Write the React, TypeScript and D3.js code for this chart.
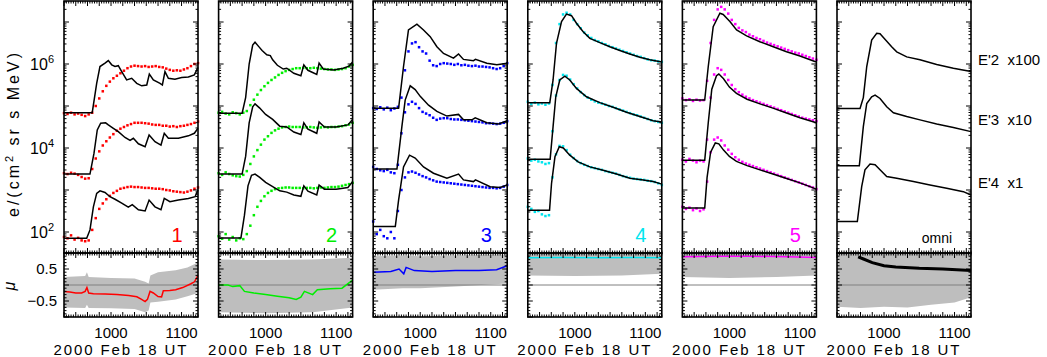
import * as d3 from 'd3';
import React, { useRef, useEffect } from 'react';

// time axis: minutes after 09:00 UT
const T0 = 20, T1 = 134;
const dotTimes = [20,23,26,29,32,35,38,41,44,47,50,53,56,59,62,65,68,71,74,77,80,83,86,89,92,95,98,101,104,107,110,113,116,119,122,125,128,131,134];

const channelLabels = ["E'2  x100", "E'3  x10", "E'4  x1"];
const panelLabels = ['1', '2', '3', '4', '5', 'omni'];
const panelColors = ['#ff0000', '#00ee00', '#0000ff', '#00e5ee', '#ff00ff', '#000000'];

// ---- panel 1 (log10 flux) ----
const p1Dots2 = [4.83,4.81,4.84,4.80,4.82,4.79,4.76,4.80,4.84,5.0,5.18,5.35,5.48,5.58,5.66,5.72,5.78,5.84,5.9,5.94,5.96,5.95,5.94,5.95,5.93,5.94,5.95,5.93,5.92,5.89,5.86,5.84,5.85,5.84,5.87,5.9,5.95,6.0,6.02];
const p1Dots3 = [3.40,3.38,3.41,3.39,3.36,3.31,3.27,3.28,3.5,3.75,3.92,4.06,4.16,4.25,4.33,4.41,4.46,4.5,4.54,4.57,4.6,4.6,4.6,4.59,4.58,4.56,4.55,4.55,4.53,4.53,4.51,4.52,4.5,4.52,4.53,4.55,4.57,4.6,4.63];
const p1Dots4 = [1.88,1.85,1.92,1.82,1.86,1.80,1.78,1.8,2.05,2.33,2.55,2.68,2.78,2.86,2.93,2.98,3.03,3.05,3.07,3.08,3.07,3.07,3.06,3.05,3.05,3.04,3.03,3.03,3.02,3.0,2.99,2.97,2.96,2.95,2.94,2.96,2.99,3.03,3.06];
const p1Fit2 = [[20,4.84],[44,4.84],[47.8,5.54],[50.6,5.94],[54.9,6.02],[57.7,6.08],[60.6,5.98],[63.4,5.94],[66.2,5.96],[69.1,5.82],[73.3,5.62],[77.6,5.66],[81.9,5.54],[86.1,5.48],[90.4,5.5],[92.6,5.76],[96,5.62],[101.7,5.54],[103.7,5.5],[105.9,5.82],[108.8,5.66],[114.4,5.64],[120.1,5.68],[125.8,5.69],[130.9,5.74],[134,5.92]];
const p1Fit3 = [[20,3.38],[42.1,3.38],[45.5,3.87],[48.3,4.43],[51.2,4.59],[55.4,4.6],[57.7,4.55],[62,4.47],[66.2,4.39],[71.9,4.25],[76.2,4.18],[79,4.23],[83.3,4.1],[89,4.03],[92.4,4.31],[97.4,4.15],[102.5,4.07],[105.3,4.35],[108.8,4.23],[117.3,4.23],[125.8,4.29],[130.9,4.35],[134,4.47]];
const p1Fit4 = [[20,1.85],[39.3,1.85],[42.1,2.05],[45,2.6],[47.8,2.92],[50.6,2.98],[54.9,2.94],[59.1,2.84],[63.4,2.78],[69.1,2.69],[74.7,2.59],[78.1,2.65],[83.3,2.53],[89,2.5],[92.4,2.76],[97.4,2.6],[102.5,2.53],[105.3,2.8],[110.1,2.72],[117.3,2.76],[125.8,2.8],[131.5,2.84],[134,3.0]];

// ---- panel 2 ----
const p2Dots2 = [4.84,4.86,4.82,4.8,4.85,4.83,4.8,4.84,4.88,5.02,5.15,5.27,5.38,5.47,5.55,5.62,5.68,5.74,5.79,5.83,5.86,5.88,5.9,5.9,5.91,5.9,5.9,5.91,5.9,5.89,5.88,5.87,5.87,5.86,5.87,5.88,5.9,5.94,5.98];
const p2Dots3 = [3.4,3.36,3.42,3.38,3.35,3.33,3.32,3.36,3.45,3.62,3.8,3.95,4.08,4.2,4.28,4.36,4.42,4.46,4.49,4.5,4.51,4.5,4.5,4.5,4.49,4.49,4.5,4.49,4.48,4.49,4.5,4.49,4.5,4.5,4.51,4.52,4.54,4.56,4.6];
const p2Dots4 = [1.9,1.84,1.95,1.82,1.88,1.8,1.85,1.83,1.95,2.15,2.4,2.6,2.74,2.85,2.93,2.98,3.02,3.04,3.05,3.06,3.06,3.05,3.05,3.05,3.04,3.05,3.05,3.04,3.05,3.06,3.05,3.06,3.07,3.07,3.08,3.1,3.12,3.14,3.17];
const p2Fit2 = [[20,4.83],[40,4.83],[43,5.2],[46,6.0],[49,6.45],[51,6.52],[54,6.42],[57,6.32],[61,6.22],[64,6.2],[66,6.1],[70,5.97],[75,5.88],[78,5.9],[84,5.78],[90,5.72],[92.5,5.98],[96,5.85],[103.5,5.75],[105.5,6.02],[109,5.88],[118,5.86],[126,5.9],[131,5.95],[134,6.05]];
const p2Fit3 = [[20,3.38],[40,3.38],[43,3.8],[46,4.6],[49,4.98],[51,5.05],[55,4.95],[60,4.8],[66,4.68],[72,4.52],[78,4.5],[84,4.38],[90,4.32],[92.5,4.6],[96,4.45],[103.5,4.35],[105.5,4.62],[110,4.5],[120,4.5],[130,4.55],[134,4.68]];
const p2Fit4 = [[20,1.86],[39,1.86],[42,2.4],[45,3.1],[48,3.35],[51,3.38],[55,3.3],[60,3.18],[66,3.08],[72,2.98],[78,2.95],[84,2.88],[90,2.85],[92.5,3.1],[96,2.97],[103.5,2.88],[105.5,3.12],[110,3.02],[120,3.02],[130,3.06],[134,3.2]];

// ---- panel 3 ----
const p3Dots2 = [4.95,4.93,4.97,4.92,4.96,4.9,4.94,4.98,5.2,5.85,6.3,6.49,6.52,6.4,6.3,6.25,6.08,5.97,5.95,6.0,6.02,6.01,6.0,5.98,6.0,5.97,5.98,5.96,5.95,5.96,5.94,5.94,5.93,5.92,5.9,5.88,5.9,5.95,6.02];
const p3Dots3 = [3.55,3.5,3.47,3.45,3.48,3.42,3.4,3.6,4.35,4.85,5.04,5.1,5.05,4.95,4.86,4.82,4.78,4.72,4.67,4.7,4.71,4.71,4.69,4.68,4.68,4.67,4.66,4.65,4.64,4.63,4.62,4.61,4.59,4.59,4.58,4.57,4.58,4.6,4.64];
const p3Dots4 = [2.25,1.95,2.05,1.9,1.85,2.0,1.85,2.5,3.0,3.3,3.42,3.44,3.41,3.37,3.33,3.3,3.26,3.23,3.2,3.19,3.18,3.17,3.16,3.15,3.14,3.13,3.12,3.11,3.1,3.09,3.08,3.07,3.06,3.05,3.05,3.04,3.05,3.08,3.12];
const p3Fit2 = [[20,4.945],[41.6,4.945],[45.8,5.94],[50,6.81],[57.2,6.95],[62.8,6.81],[68.5,6.65],[74.2,6.41],[79.8,6.25],[88.3,6.14],[92.6,6.24],[96.8,6.11],[105.3,6.08],[107,6.11],[116.7,6.02],[125.2,5.98],[134,6.02]];
const p3Fit3 = [[20,3.5],[40.2,3.5],[44.4,4.51],[47.2,5.14],[51.5,5.48],[55.7,5.39],[60,5.23],[67.1,5.02],[74.2,4.87],[82.7,4.76],[92.6,4.8],[96.8,4.67],[104,4.67],[106.8,4.72],[116.7,4.6],[126.6,4.57],[134,4.65]];
const p3Fit4 = [[20,2.13],[38.8,2.13],[41.6,2.76],[45.8,3.55],[50.9,3.83],[55.7,3.76],[62.8,3.55],[71.3,3.4],[82.7,3.28],[92.6,3.38],[96.8,3.24],[105.3,3.2],[107,3.24],[119.5,3.08],[128,3.06],[134,3.12]];

// ---- panel 4 ----
const p4Dots2 = [5.1,5.05,5.08,5.04,5.06,5.03,5.06,5.5,6.5,6.95,7.18,7.22,7.18,7.05,6.95,6.85,6.75,6.68,6.62,6.57,6.54,6.5,6.47,6.43,6.4,6.37,6.34,6.31,6.28,6.25,6.22,6.19,6.17,6.14,6.11,6.09,6.08,6.06,6.05];
const p4Dots3 = [3.75,3.7,3.72,3.68,3.66,3.62,3.64,4.4,5.25,5.62,5.74,5.72,5.63,5.52,5.42,5.33,5.26,5.2,5.15,5.11,5.08,5.06,5.03,5.0,4.98,4.95,4.92,4.89,4.86,4.83,4.8,4.78,4.75,4.72,4.69,4.66,4.64,4.62,4.6];
const p4Dots4 = [2.6,2.55,2.48,2.5,2.42,2.38,2.4,3.3,3.85,4.05,4.04,3.95,3.84,3.76,3.69,3.64,3.6,3.57,3.54,3.52,3.5,3.48,3.45,3.43,3.41,3.39,3.36,3.33,3.31,3.29,3.27,3.26,3.25,3.24,3.22,3.21,3.19,3.16,3.12];
const p4Fit2 = [[20,5.08],[38.7,5.08],[41.5,5.62],[44.4,6.49],[48.7,7.01],[52.9,7.19],[57.2,7.15],[61.4,6.97],[67.1,6.77],[72.8,6.61],[81.3,6.51],[89.8,6.41],[98.3,6.32],[106.8,6.24],[115.3,6.16],[123.8,6.1],[134,6.05]];
const p4Fit3 = [[20,3.73],[39,3.73],[41.5,4.51],[43.8,5.22],[47.2,5.62],[51.5,5.71],[55.7,5.62],[61.4,5.42],[69.9,5.22],[81.3,5.08],[92.6,4.97],[104,4.85],[115.3,4.75],[126.6,4.65],[134,4.62]];
const p4Fit4 = [[20,2.52],[38.5,2.52],[40.2,3.16],[43.1,3.79],[46.8,4.03],[50.2,4.0],[55.7,3.83],[62.8,3.67],[72.8,3.55],[84.1,3.47],[95.5,3.38],[106.8,3.28],[118.2,3.24],[126.6,3.2],[134,3.14]];

// ---- panel 5 ----
const p5Dots2 = [5.18,5.14,5.16,5.12,5.15,5.13,5.14,5.6,6.5,7.05,7.3,7.36,7.3,7.2,7.05,6.95,6.86,6.8,6.76,6.7,6.66,6.62,6.59,6.55,6.51,6.48,6.45,6.42,6.39,6.36,6.33,6.3,6.27,6.25,6.22,6.19,6.16,6.13,6.1];
const p5Dots3 = [3.72,3.68,3.74,3.7,3.66,3.7,3.68,4.2,5.2,5.75,5.9,5.86,5.75,5.62,5.5,5.4,5.33,5.27,5.22,5.18,5.14,5.11,5.08,5.05,5.02,4.99,4.96,4.93,4.9,4.87,4.84,4.81,4.78,4.75,4.72,4.7,4.68,4.66,4.64];
const p5Dots4 = [2.6,2.55,2.58,2.52,2.56,2.5,2.54,3.2,3.9,4.2,4.25,4.18,4.06,3.96,3.86,3.78,3.72,3.67,3.63,3.6,3.57,3.54,3.51,3.48,3.45,3.42,3.39,3.36,3.33,3.3,3.27,3.24,3.21,3.18,3.15,3.12,3.09,3.06,3.02];
const p5Fit2 = [[20,5.14],[39,5.14],[42,5.94],[46.2,6.89],[51.9,7.21],[54.7,7.18],[60.4,7.01],[66.1,6.81],[74.6,6.67],[85.9,6.53],[97.3,6.41],[108.6,6.29],[120,6.19],[132.7,6.06],[134,6.05]];
const p5Fit3 = [[20,3.71],[39,3.71],[42,4.6],[45,5.4],[49,5.72],[51,5.76],[55,5.65],[60,5.45],[66,5.3],[75,5.16],[86,5.05],[97,4.95],[108,4.84],[120,4.72],[134,4.6]];
const p5Fit4 = [[20,2.57],[39,2.57],[41,3.3],[44,3.9],[48,4.12],[51,4.1],[55,3.95],[60,3.8],[66,3.68],[75,3.58],[86,3.48],[97,3.38],[108,3.28],[120,3.17],[134,3.02]];

// ---- panel 6 (omni) ----
const p6Fit2 = [[20,4.94],[39.6,4.94],[42.4,5.2],[45.3,5.94],[49.5,6.57],[53.8,6.73],[56.6,6.72],[60.8,6.59],[66.5,6.41],[70.8,6.29],[79.3,6.17],[90.6,6.1],[104.8,5.99],[119,5.9],[134,5.82]];
const p6Fit3 = [[20,3.58],[39,3.58],[42.4,4.51],[45.3,5.06],[49.5,5.22],[52.4,5.26],[56.6,5.18],[62.3,4.98],[68,4.84],[79.3,4.75],[90.6,4.67],[104.8,4.57],[119,4.49],[134,4.39]];
const p6Fit4 = [[20,2.25],[37.3,2.25],[41,3.08],[43.8,3.48],[48.1,3.62],[52.4,3.6],[56.6,3.48],[62.3,3.32],[70.8,3.28],[85,3.2],[99.1,3.12],[113.3,3.04],[127.5,2.96],[134,2.88]];

// ---- pitch-angle cosine (mu) ----
const p1Mu = [[20,-0.2],[25,-0.22],[30,-0.25],[35,-0.25],[38,-0.2],[39.5,-0.08],[41,-0.25],[45,-0.27],[55,-0.28],[65,-0.3],[75,-0.33],[82,-0.37],[86,-0.45],[89,-0.52],[91,-0.45],[93.2,-0.2],[96,-0.25],[100,-0.36],[103,-0.37],[104.5,-0.18],[110,-0.17],[115,-0.15],[121,-0.08],[128,0.04],[131,0.1],[134,0.3]];
const p1Band = [[20,-0.7,0.25],[38,-0.72,0.28],[39.5,-0.62,0.4],[41,-0.72,0.25],[60,-0.73,0.22],[80,-0.75,0.2],[89,-0.85,0.1],[92,-0.8,0.05],[93.5,-0.55,0.3],[100,-0.52,0.4],[115,-0.45,0.46],[125,-0.35,0.55],[134,-0.25,0.7]];
const p2Mu = [[20,0.0],[28,0.0],[32,-0.05],[38,-0.02],[42,-0.2],[50,-0.25],[60,-0.3],[70,-0.35],[80,-0.4],[86,-0.45],[90,-0.38],[93,-0.2],[100,-0.3],[104,-0.15],[115,-0.12],[125,-0.1],[134,0.15]];
const p2Band = [[20,-0.85,0.8],[60,-0.88,0.78],[100,-0.85,0.8],[134,-0.7,0.85]];
const p3Mu = [[20,0.4],[35,0.42],[42,0.5],[46,0.35],[48,0.55],[55,0.45],[70,0.42],[90,0.45],[110,0.45],[125,0.48],[134,0.6]];
const p3Band = [[20,-0.15,0.9],[45,-0.1,0.92],[60,-0.1,0.9],[90,-0.05,0.92],[134,0.05,0.95]];
const p4Mu = [[20,0.85],[50,0.86],[80,0.85],[110,0.86],[134,0.85]];
const p4Band = [[20,0.3,1],[60,0.28,1],[100,0.3,1],[134,0.35,1]];
const p5Mu = [[20,0.88],[50,0.9],[80,0.9],[110,0.88],[134,0.86]];
const p5Band = [[20,0.25,1],[60,0.22,1],[100,0.25,1],[134,0.3,1]];
const p6Mu = [[38,0.88],[42,0.82],[50,0.7],[60,0.6],[70,0.56],[90,0.52],[110,0.5],[134,0.45]];
const p6Band = [[20,-0.68,1],[40,-0.72,1],[60,-0.68,1],[80,-0.7,1],[100,-0.62,1],[120,-0.55,1],[134,-0.38,1]];

const panels = [
    { dots: [p1Dots2, p1Dots3, p1Dots4], fits: [p1Fit2, p1Fit3, p1Fit4], mu: p1Mu, band: p1Band },
    { dots: [p2Dots2, p2Dots3, p2Dots4], fits: [p2Fit2, p2Fit3, p2Fit4], mu: p2Mu, band: p2Band },
    { dots: [p3Dots2, p3Dots3, p3Dots4], fits: [p3Fit2, p3Fit3, p3Fit4], mu: p3Mu, band: p3Band },
    { dots: [p4Dots2, p4Dots3, p4Dots4], fits: [p4Fit2, p4Fit3, p4Fit4], mu: p4Mu, band: p4Band },
    { dots: [p5Dots2, p5Dots3, p5Dots4], fits: [p5Fit2, p5Fit3, p5Fit4], mu: p5Mu, band: p5Band },
    { dots: [], fits: [p6Fit2, p6Fit3, p6Fit4], mu: p6Mu, band: p6Band },
];

const FONT = "'Liberation Sans', Arial, Helvetica, sans-serif";

function App() {
    const ref = useRef(null);

    useEffect(() => {
        const svg = d3.select(ref.current);
        svg.selectAll('*').remove();
        draw(svg);
    }, []);

    const draw = (svg) => {
        const left0 = 64, step = 154.6, pw = 134;
        const top = 1, mid = 253, bot = 317;

        const y = d3.scaleLog().domain([Math.pow(10, 1.5), Math.pow(10, 7.5)]).range([mid, top]);
        const ymu = d3.scaleLinear().domain([-1, 1]).range([bot, mid]);

        panels.forEach((p, i) => {
            const left = left0 + i * step;
            const x = d3.scaleLinear().domain([T0, T1]).range([left, left + pw]);
            const g = svg.append('g');
            const color = panelColors[i];

            // lower panel: band, zero line, mu
            const area = d3.area().x(d => x(d[0])).y0(d => ymu(d[1])).y1(d => ymu(d[2]));
            g.append('path').attr('d', area(p.band)).attr('fill', '#bebebe');
            g.append('line').attr('x1', left).attr('x2', left + pw)
                .attr('y1', ymu(0)).attr('y2', ymu(0))
                .attr('stroke', '#808080').attr('stroke-width', 1);
            const muLine = d3.line().x(d => x(d[0])).y(d => ymu(d[1]));
            g.append('path').attr('d', muLine(p.mu)).attr('fill', 'none')
                .attr('stroke', color).attr('stroke-width', i === 5 ? 3 : 1.5);

            // upper panel: dots + fits
            p.dots.forEach(series => {
                g.selectAll(null).data(series).enter().append('rect')
                    .attr('x', (d, k) => x(dotTimes[k]) - 1.25)
                    .attr('y', d => y(Math.pow(10, d)) - 1.25)
                    .attr('width', 2.5).attr('height', 2.5)
                    .attr('fill', color);
            });
            const fitLine = d3.line().x(d => x(d[0])).y(d => y(Math.pow(10, d[1])));
            p.fits.forEach(f => {
                g.append('path').attr('d', fitLine(f)).attr('fill', 'none')
                    .attr('stroke', '#000').attr('stroke-width', 1.5);
            });

            // ticks
            const tk = g.append('g').attr('stroke', '#000').attr('stroke-width', 1);
            const xt = d3.range(20, 135, 2);
            xt.forEach(t => {
                const L = t % 10 === 0 ? 5 : 2.5;
                [[top, 1], [mid, -1], [mid, 1], [bot, -1]].forEach(([yy, dir]) => {
                    tk.append('line').attr('x1', x(t)).attr('x2', x(t))
                        .attr('y1', yy).attr('y2', yy + dir * L);
                });
            });
            for (let dec = 1; dec <= 7; dec++) {
                for (let m = 1; m <= 9; m++) {
                    const v = m * Math.pow(10, dec);
                    const yy = y(v);
                    if (yy < top || yy > mid) continue;
                    const L = m === 1 ? 5 : 2.5;
                    tk.append('line').attr('x1', left).attr('x2', left + L).attr('y1', yy).attr('y2', yy);
                    tk.append('line').attr('x1', left + pw).attr('x2', left + pw - L).attr('y1', yy).attr('y2', yy);
                }
            }
            d3.range(-10, 11).forEach(k => {
                const v = k / 10;
                const L = k % 5 === 0 ? 5 : 2.5;
                tk.append('line').attr('x1', left).attr('x2', left + L).attr('y1', ymu(v)).attr('y2', ymu(v));
                tk.append('line').attr('x1', left + pw).attr('x2', left + pw - L).attr('y1', ymu(v)).attr('y2', ymu(v));
            });

            // frames
            g.append('rect').attr('x', left).attr('y', top).attr('width', pw).attr('height', mid - top)
                .attr('fill', 'none').attr('stroke', '#000').attr('stroke-width', 1.6);
            g.append('rect').attr('x', left).attr('y', mid).attr('width', pw).attr('height', bot - mid)
                .attr('fill', 'none').attr('stroke', '#000').attr('stroke-width', 1.6);

            // x labels
            [60, 120].forEach(t => {
                g.append('text').attr('x', x(t)).attr('y', 338).attr('text-anchor', 'middle')
                    .attr('font-family', FONT).attr('font-size', 15).text(t === 60 ? '1000' : '1100');
            });
            g.append('text').attr('x', left + 56).attr('y', 355).attr('text-anchor', 'middle')
                .attr('font-family', FONT).attr('font-size', 15)
                .attr('textLength', 133).attr('lengthAdjust', 'spacing')
                .text('2000 Feb 18 UT');

            // panel label
            if (i < 5) {
                g.append('text').attr('x', left + 113).attr('y', 242).attr('text-anchor', 'middle')
                    .attr('font-family', FONT).attr('font-size', 20).attr('fill', color).text(panelLabels[i]);
            } else {
                g.append('text').attr('x', left + 100).attr('y', 243).attr('text-anchor', 'middle')
                    .attr('font-family', FONT).attr('font-size', 14).attr('fill', '#000').text(panelLabels[i]);
            }
        });

        // y tick labels (first panel only)
        [2, 4, 6].forEach(e => {
            const t = svg.append('text').attr('x', 54).attr('y', y(Math.pow(10, e)) + 6)
                .attr('text-anchor', 'end').attr('font-family', FONT).attr('font-size', 16);
            t.append('tspan').text('10');
            t.append('tspan').attr('dy', -7).attr('font-size', 11).text(String(e));
        });
        [0.5, -0.5].forEach(v => {
            svg.append('text').attr('x', 57).attr('y', ymu(v) + 5).attr('text-anchor', 'end')
                .attr('font-family', FONT).attr('font-size', 15).text(v > 0 ? '0.5' : '\u22120.5');
        });

        // y axis titles
        const yt = svg.append('text').attr('transform', 'translate(19,135) rotate(-90)')
            .attr('text-anchor', 'middle').attr('font-family', FONT).attr('font-size', 16)
            .attr('textLength', 164).attr('lengthAdjust', 'spacing');
        yt.append('tspan').text('e/(cm');
        yt.append('tspan').attr('dy', -6).attr('font-size', 11).text('2');
        yt.append('tspan').attr('dy', 6).text(' sr s MeV)');
        svg.append('text').attr('transform', 'translate(15,286) rotate(-90)')
            .attr('text-anchor', 'middle').attr('font-family', FONT).attr('font-size', 16)
            .attr('font-style', 'italic').text('\u03bc');

        // channel labels right of omni panel
        [60, 120, 183].forEach((yy, k) => {
            svg.append('text').attr('x', 978).attr('y', yy + 5).attr('font-family', FONT)
                .attr('font-size', 15).attr('xml:space', 'preserve').style('white-space', 'pre')
                .text(channelLabels[k]);
        });
    };

    return (
        <svg ref={ref} width={1047} height={357}
            style={{ position: 'absolute', left: 0, top: 0, background: '#fff' }} />
    );
}

export default App;
